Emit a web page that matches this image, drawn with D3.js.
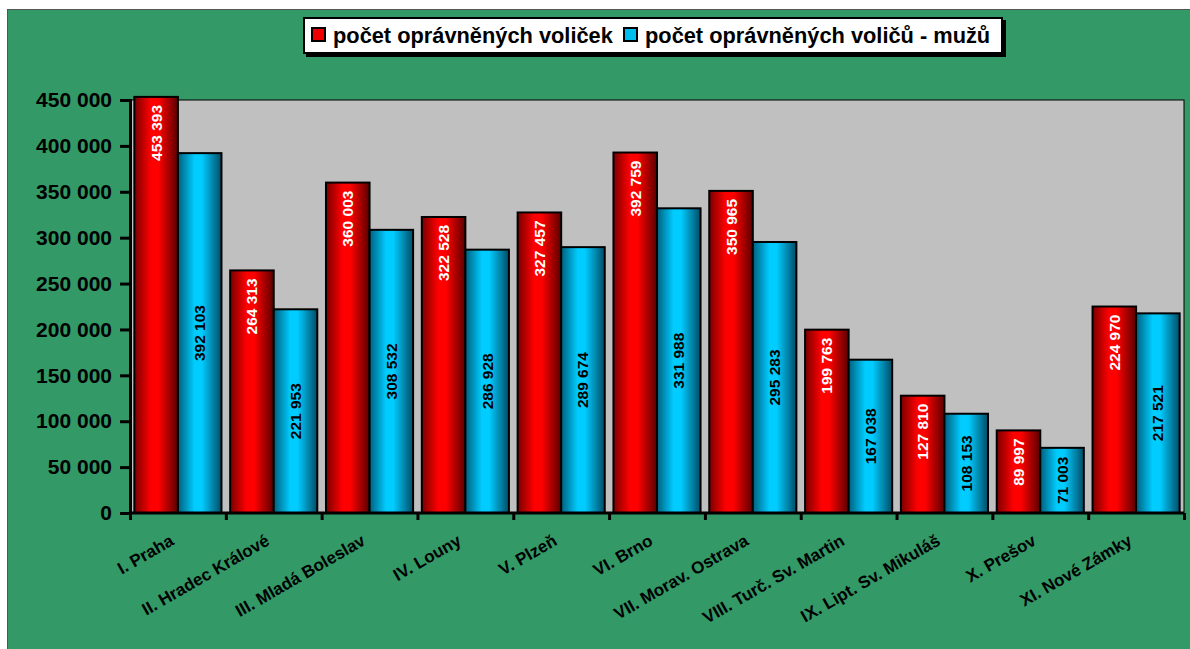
<!DOCTYPE html>
<html>
<head>
<meta charset="utf-8">
<script src="https://cdn.jsdelivr.net/npm/d3@7"></script>
<style>
  body { margin: 0; background: #fff; }
  svg { display: block; font-family: Arial, "Liberation Sans", sans-serif; }
</style>
</head>
<body>
<svg></svg>
<script>
var width = 1190;
var height = 649;

var regions = ["I. Praha", "II. Hradec Králové", "III. Mladá Boleslav", "IV. Louny",
  "V. Plzeň", "VI. Brno", "VII. Morav. Ostrava", "VIII. Turč. Sv. Martin",
  "IX. Lipt. Sv. Mikuláš", "X. Prešov", "XI. Nové Zámky"];
var women = [453393, 264313, 360003, 322528, 327457, 392759, 350965, 199763, 127810, 89997, 224970];
var men = [392103, 221953, 308532, 286928, 289674, 331988, 295283, 167038, 108153, 71003, 217521];
var seriesNames = ["počet oprávněných voliček", "počet oprávněných voličů - mužů"];
var yTicks = [0, 50000, 100000, 150000, 200000, 250000, 300000, 350000, 400000, 450000];

var svg = d3.select("svg")
  .attr("width", width)
  .attr("height", height);

// gradients
var defs = svg.append("defs");
function grad(id, edgeL, mid, edgeR) {
  var g = defs.append("linearGradient").attr("id", id)
    .attr("x1", "0%").attr("x2", "100%").attr("y1", "0%").attr("y2", "0%");
  g.append("stop").attr("offset", "0%").attr("stop-color", edgeL);
  g.append("stop").attr("offset", "38%").attr("stop-color", mid);
  g.append("stop").attr("offset", "55%").attr("stop-color", mid);
  g.append("stop").attr("offset", "100%").attr("stop-color", edgeR);
}
grad("gRed", "#7a0000", "#ff0000", "#5a0000");
grad("gBlue", "#00607e", "#00ccff", "#004c66");

// background
svg.append("rect")
  .attr("x", 7.5).attr("y", 9.5)
  .attr("width", width).attr("height", height)
  .attr("fill", "#339966")
  .attr("stroke", "#555").attr("stroke-width", 1);

var pLeft = 130, pRight = 1184, pTop = 100, pBottom = 513;

var x = d3.scaleBand().domain(regions).range([pLeft, pRight]);
var inner = d3.scaleBand().domain([0, 1]).range([0, x.bandwidth()]).paddingOuter(0.1);
var y = d3.scaleLinear().domain([0, 450000]).range([pBottom, pTop]);

svg.append("rect")
  .attr("x", pLeft).attr("y", pTop)
  .attr("width", pRight - pLeft).attr("height", pBottom - pTop)
  .attr("fill", "#c0c0c0")
  .attr("stroke", "#000").attr("stroke-width", 1);

var rows = regions.map((r, i) => ({ region: r, vals: [women[i], men[i]] }));

var groups = svg.selectAll("g.cat")
  .data(rows)
  .enter()
  .append("g")
    .attr("class", "cat")
    .attr("transform", d => "translate(" + x(d.region) + ",0)");

groups.selectAll("rect")
  .data(d => d.vals.map((v, k) => ({ k: k, v: v })))
  .enter()
  .append("rect")
    .attr("x", d => inner(d.k))
    .attr("y", d => y(d.v))
    .attr("width", inner.bandwidth())
    .attr("height", d => pBottom - y(d.v))
    .attr("fill", d => d.k === 0 ? "url(#gRed)" : "url(#gBlue)")
    .attr("stroke", "#000")
    .attr("stroke-width", 2);

var fmt = v => d3.format(",")(v).replace(/,/g, " ");

groups.selectAll("text.val")
  .data(d => d.vals.map((v, k) => ({ k: k, v: v })))
  .enter()
  .append("text")
    .attr("class", "val")
    .attr("transform", d => {
      var cx = inner(d.k) + inner.bandwidth() / 2;
      var cy = d.k === 0 ? y(d.v) + 8 : (y(d.v) + pBottom) / 2;
      return "translate(" + (cx + 5.5) + "," + cy + ") rotate(-90)";
    })
    .attr("text-anchor", d => d.k === 0 ? "end" : "middle")
    .attr("font-size", 15.5)
    .attr("font-weight", "bold")
    .attr("fill", d => d.k === 0 ? "#fff" : "#000")
    .text(d => fmt(d.v));

// y axis
var yAxis = svg.append("g")
  .attr("transform", "translate(" + pLeft + ",0)")
  .call(d3.axisLeft(y).tickValues(yTicks).tickSize(10).tickPadding(8).tickFormat(fmt));
yAxis.select(".domain").attr("stroke-width", 3);
yAxis.selectAll(".tick line").attr("stroke-width", 3);
yAxis.selectAll("text")
  .attr("font-size", 21).attr("font-weight", "bold")
  .attr("font-family", "Arial, 'Liberation Sans', sans-serif").attr("fill", "#000");

// x axis
var xAxis = svg.append("g")
  .attr("transform", "translate(0," + pBottom + ")")
  .call(d3.axisBottom(d3.scaleLinear().domain([0, regions.length]).range([pLeft, pRight]))
    .ticks(regions.length).tickSize(7).tickFormat(""));
xAxis.select(".domain").attr("stroke-width", 3).attr("d", "M" + pLeft + ",0H" + pRight);
xAxis.selectAll(".tick line").attr("stroke-width", 3);

svg.selectAll("text.cat")
  .data(regions)
  .enter()
  .append("text")
    .attr("class", "cat")
    .attr("transform", d => "translate(" + (x(d) + x.bandwidth() / 2 - 3) + "," + (pBottom + 31) + ") rotate(-30)")
    .attr("text-anchor", "end")
    .attr("font-size", 17)
    .attr("font-weight", "bold")
    .attr("fill", "#000")
    .text(d => d);

// legend
var lg = svg.append("g");
lg.append("rect").attr("x", 306).attr("y", 20).attr("width", 700).attr("height", 37).attr("fill", "#000");
lg.append("rect").attr("x", 304).attr("y", 18).attr("width", 698).attr("height", 35)
  .attr("fill", "#fff").attr("stroke", "#000").attr("stroke-width", 2);
var legX = [312, 624];
var legFill = ["#ee0000", "#00bfef"];
seriesNames.forEach((name, i) => {
  lg.append("rect").attr("x", legX[i]).attr("y", 28).attr("width", 13).attr("height", 13)
    .attr("fill", legFill[i]).attr("stroke", "#000").attr("stroke-width", 2);
  lg.append("text").attr("x", legX[i] + 21).attr("y", 43)
    .attr("font-size", 21.8).attr("font-weight", "bold").attr("fill", "#000")
    .text(name);
});
</script>
</body>
</html>
